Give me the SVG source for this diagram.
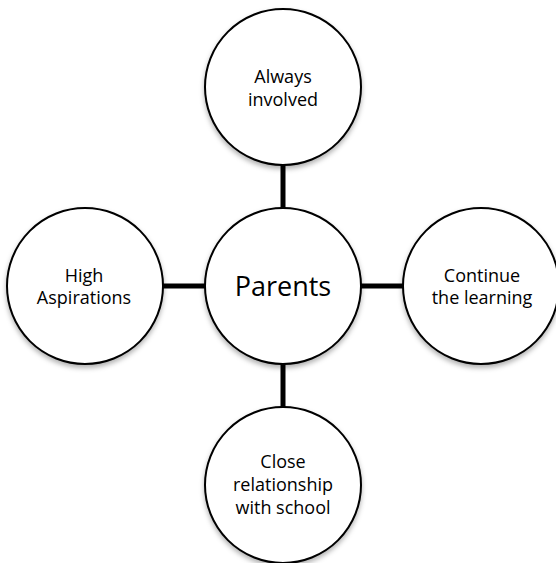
<svg xmlns="http://www.w3.org/2000/svg" width="556" height="563" viewBox="0 0 556 563">
<defs>
<filter id="sh" x="-20%" y="-20%" width="140%" height="150%">
<feDropShadow dx="0" dy="3" stdDeviation="2.5" flood-color="#000" flood-opacity="0.3"/>
</filter>
</defs>
<style>
.n{fill:#fff;stroke:#000;stroke-width:2;filter:url(#sh)}
.c{stroke:#000;stroke-width:5;fill:none}
text{font-family:"Open Sans","Liberation Sans",sans-serif;font-size:18px;fill:#000;text-anchor:middle}
.big{font-size:27px}
</style>
<rect width="556" height="563" fill="#fff"/>
<g id="connectors">
<line class="c" x1="283" y1="165" x2="283" y2="209"/>
<line class="c" x1="283" y1="363" x2="283" y2="408"/>
<line class="c" x1="163" y1="286" x2="205" y2="286"/>
<line class="c" x1="360" y1="286" x2="404" y2="286"/>
</g>
<g id="parents">
<circle class="n" cx="283" cy="286" r="78"/>
<text class="big" x="283" y="296">Parents</text>
</g>
<g id="always-involved">
<circle class="n" cx="283" cy="87" r="78"/>
<text x="283" y="83">Always</text>
<text x="283" y="106">involved</text>
</g>
<g id="high-aspirations">
<circle class="n" cx="85" cy="286" r="78"/>
<text x="84" y="282">High</text>
<text x="84" y="304">Aspirations</text>
</g>
<g id="continue-learning">
<circle class="n" cx="481" cy="286" r="78"/>
<text x="482" y="282">Continue</text>
<text x="482" y="304">the learning</text>
</g>
<g id="close-relationship">
<circle class="n" cx="283" cy="485" r="78"/>
<text x="283" y="468">Close</text>
<text x="283" y="491">relationship</text>
<text x="283" y="514">with school</text>
</g>
</svg>
